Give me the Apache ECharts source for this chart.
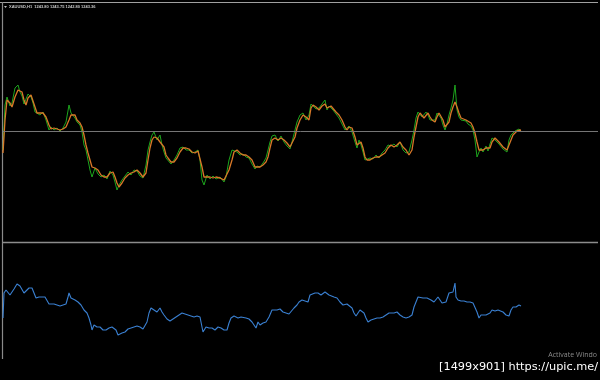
<!DOCTYPE html>
<html><head><meta charset="utf-8">
<script src="https://cdn.jsdelivr.net/npm/echarts@6/dist/echarts.min.js"></script>
<style>html,body{margin:0;padding:0;background:#000;}#c{width:600px;height:380px;}</style>
</head><body><div id="c"></div>
<script>
// Main panel (XAUUSD H1): bar index, moving average and close prices
const mainBars = [
0,2,4,5,7,9,12,15,17,19,
21,23,25,28,30,32,34,37,40,43,
46,48,51,54,57,60,63,66,68,70,
72,74,77,79,81,83,85,87,89,92,
95,98,101,104,107,110,112,114,116,119,
122,125,128,131,134,137,140,143,145,147,
149,151,154,157,159,161,163,165,168,171,
174,177,180,183,186,189,192,195,197,199,
201,204,207,210,213,217,221,223,226,229,
231,234,237,240,243,246,249,252,254,257,
260,263,265,267,269,272,275,278,281,284,
287,289,292,294,297,300,303,306,308,310,
313,316,319,322,324,326,328,330,333,336,
339,342,344,346,349,352,354,356,358,360,
362,364,367,370,373,376,379,382,385,388,
391,394,397,400,403,406,409,411,413,415,
417,419,421,423,425,427,429,432,434,436,
438,440,442,444,446,448,450,452,454,456,
458,460,463,465,468,470,472,474,476,478,
480,483,485,487,489,492,494,496,498,500,
502,504,506,508,510,512,514,516,518];
const maPrices = [
1232.4,1248.9,1258.9,1259.9,1257.4,1255.4,1260.4,1263.9,1263.9,1262.9,
1258.9,1256.4,1259.9,1261.4,1260.4,1255.4,1252.4,1252.4,1252.4,1250.4,
1246.4,1244.4,1244.9,1244.4,1243.9,1244.4,1245.4,1248.9,1251.4,1252.4,
1251.4,1248.9,1247.4,1245.4,1241.4,1236.4,1232.4,1228.9,1225.4,1224.9,
1223.9,1221.4,1220.4,1220.4,1222.4,1222.9,1220.4,1217.4,1215.4,1217.4,
1219.9,1221.4,1222.4,1222.9,1223.9,1222.4,1220.4,1222.4,1228.9,1234.9,
1238.9,1240.4,1239.9,1237.9,1237.9,1235.4,1231.4,1229.9,1227.9,1227.9,
1229.9,1232.9,1234.9,1234.9,1234.4,1232.9,1232.4,1233.4,1232.9,1225.4,
1220.4,1220.4,1220.4,1219.9,1220.4,1219.9,1218.9,1218.9,1223.9,1228.9,
1232.9,1233.9,1232.4,1231.4,1231.4,1230.4,1228.9,1225.4,1224.9,1225.4,
1226.4,1227.9,1230.4,1234.9,1238.9,1239.9,1238.9,1239.9,1238.9,1237.4,
1235.4,1234.9,1240.4,1244.9,1248.9,1251.4,1250.4,1248.9,1254.9,1256.4,
1255.4,1253.9,1255.9,1256.9,1254.9,1253.9,1255.9,1254.9,1252.9,1251.4,
1248.9,1245.4,1243.9,1245.4,1244.9,1240.4,1236.4,1237.4,1237.9,1234.9,
1230.4,1228.9,1228.9,1229.9,1230.4,1230.4,1231.4,1232.4,1234.9,1236.4,
1235.4,1236.4,1237.9,1235.4,1233.9,1231.4,1233.9,1240.4,1245.4,1250.4,
1252.4,1251.4,1249.9,1250.4,1252.4,1250.4,1248.9,1247.9,1250.4,1252.4,
1251.4,1248.9,1245.4,1245.4,1247.9,1252.4,1255.4,1257.9,1255.4,1252.4,
1249.9,1248.9,1248.9,1247.9,1247.4,1245.4,1242.4,1237.9,1233.9,1232.9,
1233.9,1234.9,1233.9,1234.9,1237.9,1239.9,1238.9,1237.9,1237.4,1235.4,
1234.9,1233.9,1234.9,1238.9,1241.4,1242.4,1243.4,1243.9,1243.9];
const closePrices = [
1233.9,1256.4,1260.4,1258.9,1255.9,1257.4,1264.9,1266.4,1262.9,1260.9,
1256.9,1257.4,1261.9,1260.4,1257.4,1252.9,1253.9,1251.4,1252.9,1248.9,
1243.9,1245.4,1243.9,1244.9,1243.4,1244.9,1247.9,1256.4,1252.4,1251.4,
1249.9,1247.9,1246.4,1242.9,1236.4,1233.9,1228.9,1223.9,1220.4,1224.9,
1221.9,1220.4,1221.4,1219.4,1223.4,1221.4,1217.9,1213.9,1216.4,1218.9,
1220.9,1222.9,1221.4,1223.9,1223.4,1220.9,1219.9,1226.4,1233.9,1237.9,
1241.4,1242.9,1238.9,1241.4,1236.4,1232.9,1229.9,1228.9,1226.9,1228.9,
1231.4,1234.9,1235.4,1233.9,1233.9,1232.4,1232.9,1233.9,1228.9,1218.9,
1216.4,1221.4,1219.4,1220.9,1219.4,1220.4,1217.9,1220.4,1228.9,1233.9,
1233.9,1232.9,1231.4,1231.9,1230.4,1229.9,1226.9,1224.4,1225.9,1225.4,
1227.4,1229.9,1233.9,1237.9,1240.9,1241.4,1238.4,1240.9,1237.9,1235.9,
1234.4,1237.9,1243.9,1247.9,1251.4,1252.4,1248.9,1251.4,1256.9,1257.4,
1254.4,1254.9,1256.9,1258.9,1253.9,1255.9,1256.9,1253.9,1251.9,1249.9,
1246.9,1243.9,1244.9,1245.9,1242.9,1237.9,1234.9,1238.9,1236.4,1232.9,
1228.9,1227.9,1229.9,1229.4,1231.4,1229.9,1232.4,1233.9,1236.4,1235.9,
1236.9,1235.4,1237.9,1233.9,1232.4,1232.9,1238.9,1243.9,1249.9,1252.9,
1252.4,1250.4,1250.9,1252.9,1251.4,1248.9,1248.4,1248.9,1252.4,1252.9,
1249.9,1246.4,1243.9,1246.9,1251.4,1254.9,1258.9,1266.4,1253.9,1250.4,
1248.9,1249.9,1248.4,1246.9,1245.9,1243.9,1238.9,1230.4,1232.9,1234.9,
1232.9,1235.9,1233.4,1236.9,1239.9,1238.9,1238.4,1236.9,1236.4,1234.4,
1233.9,1232.9,1238.9,1241.4,1242.4,1243.4,1243.9,1244.4,1243.4];
const bidPrice = 1243.36;

// Lower panel indicator
const subBars = [
0,1,3,5,7,9,11,14,17,19,
21,23,26,29,31,33,36,39,42,44,
46,48,51,54,57,60,63,65,66,68,
70,72,75,78,81,84,86,88,89,91,
94,97,100,103,106,109,111,113,115,117,
119,122,125,128,131,134,137,140,142,144,
146,148,151,154,157,159,161,164,167,170,
173,176,179,182,185,188,191,194,197,199,
200,203,206,209,212,215,218,221,224,226,
228,231,233,235,238,240,243,246,249,251,
253,255,257,260,263,266,269,271,274,277,
280,283,286,288,291,294,296,297,299,302,
305,307,309,312,315,318,320,322,324,326,
328,331,334,337,340,342,344,346,349,351,
353,355,357,359,361,363,365,368,371,374,
377,380,383,386,388,391,394,397,400,403,
406,409,411,413,415,417,420,422,424,426,
428,431,433,435,437,439,441,443,446,448,
450,452,453,455,458,461,464,467,470,472,
474,476,478,480,483,485,487,489,492,495,
497,500,503,506,508,510,513,516,518];
const subValues = [
41,53.5,55,54,52.5,53.5,55.5,58,57,56,
53.5,54,56,56,53.5,51,51.5,51.5,51.5,51,
48,47,48,47.5,47,47.5,48,51.5,53.5,51,
51.5,50,49,47.5,45,43.5,41,37.5,35,37.5,
36.5,36.5,35,35,36,36.5,37.5,35,32.5,32,
33.5,34,35.5,36,36.5,37,36.5,35.5,36,39,
43.5,46,45,44,46,44,42.5,40.5,39.5,40.5,
41.5,42.5,43.5,43,42.5,42,41.5,42,41.5,36.5,
34,36.5,36,36,35,36.5,36,35,35,38.5,
41,42,42.5,41,41.5,41.5,41,40.5,39,37.5,
36,39,37.5,38.5,39,41.5,45,46,45,45.5,
44,43.5,43,43.5,46,47.5,49,50,50,49.5,
49,52.5,53.5,53.5,53.5,52.5,52.5,54,54,52.5,
53.5,51.5,51,49,47.5,46.5,48,47.5,46,43.5,
42,43.5,45,45.5,43.5,41,39,40,40.5,41,
41,41.5,42.5,43.5,42.5,43.5,44,42.5,41.5,41,
41.5,42.5,46.5,49,51.5,52,51,50,51,51.5,
50,49,49.5,51.5,51,48.5,47.5,49,53.5,52.5,
54,58.5,51.5,50,49.5,49.5,49,49,48.5,47.5,
44,41,42.5,42,42.5,42.5,43.5,45,44.5,45,
44.5,44,42.5,42,45,46.5,46.5,47.5,47];

const headerText = 'XAUUSD,H1  1243.80 1243.75 1242.80 1243.36';
const watermark1 = 'Activate Windo';
const watermark2 = '[1499x901] https://upic.me/';

const pair = (xs, ys) => xs.map((x, i) => [x, ys[i]]);

const chart = echarts.init(document.getElementById('c'), null, {renderer: 'canvas'});
chart.setOption({
  backgroundColor: '#000000',
  animation: false,
  grid: [
    {left: 3, top: 3, width: 595, height: 239},
    {left: 3, top: 243, width: 595, height: 116}
  ],
  xAxis: [
    {gridIndex: 0, type: 'value', min: 0, max: 595, show: false},
    {gridIndex: 1, type: 'value', min: 0, max: 595, show: false}
  ],
  yAxis: [
    {gridIndex: 0, type: 'value', min: 1187.9, max: 1307.4, show: false, scale: true},
    {gridIndex: 1, type: 'value', min: 20.5, max: 78.5, show: false, scale: true}
  ],
  series: [
    {
      type: 'line', xAxisIndex: 0, yAxisIndex: 0, data: pair(mainBars, closePrices),
      symbol: 'none', silent: true, lineStyle: {color: '#1da51d', width: 1}, z: 2,
      markLine: {silent: true, symbol: ['none', 'none'], label: {show: false},
        lineStyle: {color: '#757575', width: 1, type: 'solid'}, data: [{yAxis: bidPrice}]}
    },
    {
      type: 'line', xAxisIndex: 0, yAxisIndex: 0, data: pair(mainBars, maPrices),
      symbol: 'none', silent: true, lineStyle: {color: '#d97828', width: 1.3}, z: 3
    },
    {
      type: 'line', xAxisIndex: 1, yAxisIndex: 1, data: pair(subBars, subValues),
      symbol: 'none', silent: true, lineStyle: {color: '#3a80d2', width: 1.1}, z: 3
    }
  ],
  graphic: [
    {type: 'line', shape: {x1: 0, y1: 2.5, x2: 598, y2: 2.5}, style: {stroke: '#a0a0a0', lineWidth: 1}, silent: true},
    {type: 'line', shape: {x1: 2.5, y1: 2, x2: 2.5, y2: 359}, style: {stroke: '#8a8a8a', lineWidth: 1.2}, silent: true},
    {type: 'line', shape: {x1: 3, y1: 242.5, x2: 598, y2: 242.5}, style: {stroke: '#8c8c8c', lineWidth: 1.6}, silent: true},
    {type: 'polygon', shape: {points: [[4, 6], [7, 6], [5.5, 8]]}, style: {fill: '#bbbbbb'}, silent: true},
    {type: 'text', left: 9, top: 5, silent: true,
      style: {text: headerText, fill: '#c8c8c8', font: 'bold 4px "Liberation Sans"'}},
    {type: 'text', right: 3, top: 351, silent: true,
      style: {text: watermark1, fill: '#8a8a8a', font: '7px "Open Sans"'}},
    {type: 'text', right: 2, top: 362, silent: true,
      style: {text: watermark2, fill: '#ffffff', font: '11.3px "DejaVu Sans"'}}
  ]
});
</script>
</body></html>
